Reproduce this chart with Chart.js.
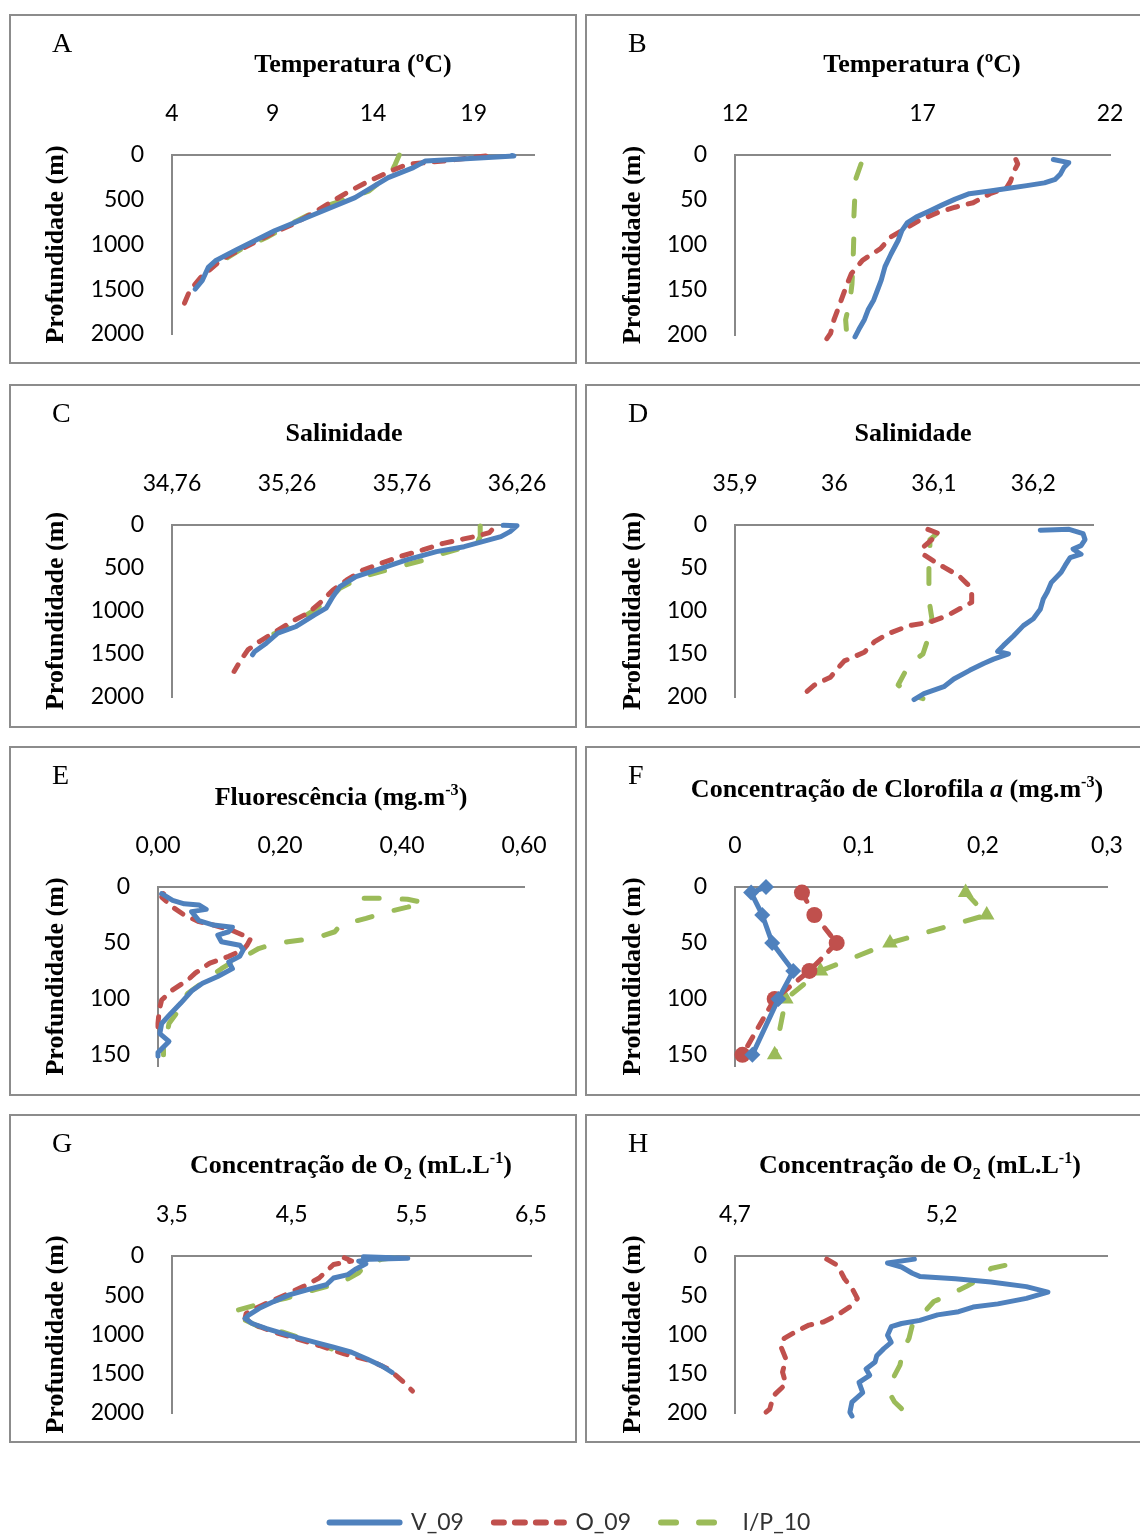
<!DOCTYPE html>
<html>
<head>
<meta charset="utf-8">
<script src="https://cdn.jsdelivr.net/npm/chart.js@4.4.1/dist/chart.umd.min.js"></script>
<style>
html, body { margin: 0; padding: 0; background: #fff; overflow: hidden; }
body { width: 1140px; height: 1535px; position: relative; }
.box { position: absolute; border: 2px solid #8c8c8c; box-sizing: border-box; pointer-events: none; }
canvas { position: absolute; }
.ttl { position: absolute; font: bold 26px "Liberation Serif", serif; white-space: nowrap; transform: translate(-50%, -50%); color: #000; }
.ttl sup, .ttl sub { font-size: 62%; line-height: 0; }
.ttl sub { vertical-align: -0.35em; }
.ttl sup { vertical-align: 0.6em; }
.let { position: absolute; font: 28px "Liberation Serif", serif; transform: translateY(-50%); color: #000; }
</style>
</head>
<body>
<script>
// series names, one per cruise
const seriesNames = ['V_09', 'O_09', 'I/P_10'];

// depth ticks
const depthDeep = [0, 500, 1000, 1500, 2000];
const depthShelf = [0, 50, 100, 150, 200];
const depthChl = [0, 50, 100, 150];

// A - temperature, deep station  [value, depth]
const tempDeepV09 = [[20.9,5],[21.0,10],[19.5,30],[17.5,55],[16.6,67],[16.0,141],[14.75,253],[13.1,476],[11.1,662],[9.1,847],[7.26,1052],[6.16,1182],[5.8,1256],[5.5,1405],[5.15,1498]];
const tempDeepO09 = [[19.6,10],[17.5,67],[15.7,104],[14.9,178],[13.8,290],[12.7,420],[11.6,569],[10.2,755],[8.9,885],[7.6,1033],[6.5,1163],[5.43,1368],[4.88,1516],[4.5,1721]];
const tempDeepIP10 = [[15.3,0],[15.1,104],[14.9,197],[14.4,290],[13.8,401],[12.9,476],[11.65,569],[10.2,736],[8.7,922],[7.44,1052],[6.5,1182],[5.9,1256]];
const tempDeepTicks = [4, 9, 14, 19];
const tempDeepText = ['4', '9', '14', '19'];

// B - temperature, shelf station
const tempShelfV09 = [[20.49,5],[20.9,8.5],[20.77,14],[20.68,21],[20.54,27],[20.25,31],[19.78,34],[19.3,37],[18.8,40],[18.25,43],[17.87,49],[17.5,56],[17.2,62],[16.83,69],[16.6,75],[16.45,84],[16.35,95],[16.16,110],[16.0,124],[15.9,139],[15.8,150],[15.7,161],[15.55,172],[15.45,183],[15.3,194],[15.2,202]];
const tempShelfO09 = [[19.49,5],[19.54,10],[19.44,18],[19.35,29],[19.25,36],[18.8,43],[18.35,53],[17.87,58],[17.4,64],[16.9,73],[16.45,84],[16.16,91],[15.88,104],[15.4,117],[15.1,132],[14.93,150],[14.8,165],[14.64,183],[14.55,198],[14.45,204]];
const tempShelfIP10 = [[15.36,10],[15.2,29],[15.19,51],[15.17,69],[15.17,88],[15.15,117],[15.12,143],[15.07,161],[14.95,183],[14.97,194],[15.12,200]];
const tempShelfTicks = [12, 17, 22];
const tempShelfText = ['12', '17', '22'];

// C - salinity, deep station
const salDeepV09 = [[36.2,3],[36.26,8],[36.23,77],[36.19,135],[36.11,193],[36.03,252],[35.91,310],[35.78,406],[35.67,503],[35.56,600],[35.49,716],[35.46,832],[35.43,967],[35.38,1045],[35.3,1180],[35.22,1258],[35.17,1374],[35.12,1470],[35.11,1509]];
const salDeepO09 = [[36.15,60],[36.14,89],[36.09,127],[36.02,166],[35.94,213],[35.85,290],[35.75,368],[35.67,445],[35.59,523],[35.52,639],[35.46,755],[35.41,890],[35.35,1026],[35.28,1123],[35.2,1258],[35.14,1355],[35.09,1452],[35.06,1568],[35.03,1703]];
const salDeepIP10 = [[36.1,12],[36.1,135],[36.09,193],[36.04,252],[35.94,329],[35.86,406],[35.72,503],[35.59,600],[35.49,735],[35.44,871],[35.38,987],[35.3,1123],[35.23,1239],[35.17,1297]];
const salDeepTicks = [34.76, 35.26, 35.76, 36.26];
const salDeepText = ['34,76', '35,26', '35,76', '36,26'];

// D - salinity, shelf station
const salShelfV09 = [[36.207,6],[36.236,5],[36.25,10],[36.252,17],[36.248,24],[36.24,28],[36.248,34],[36.237,38],[36.232,47],[36.228,55],[36.218,67],[36.214,78],[36.21,86],[36.207,98],[36.2,109],[36.19,117],[36.18,129],[36.17,140],[36.164,147],[36.175,150],[36.16,156],[36.15,161],[36.136,169],[36.12,179],[36.11,188],[36.09,196],[36.08,203]];
const salShelfO09 = [[36.094,5],[36.105,10],[36.098,17],[36.089,26],[36.089,34],[36.1,42],[36.11,49],[36.125,59],[36.134,69],[36.138,78],[36.138,90],[36.125,98],[36.114,105],[36.096,113],[36.075,117],[36.053,127],[36.04,136],[36.03,148],[36.01,158],[36.003,167],[35.996,177],[35.98,186],[35.97,196],[35.967,204]];
const salShelfIP10 = [[36.103,10],[36.096,17],[36.096,32],[36.095,47],[36.095,71],[36.096,94],[36.098,109],[36.094,121],[36.093,136],[36.089,150],[36.082,156],[36.071,171],[36.064,186],[36.078,198],[36.089,202]];
const salShelfTicks = [35.9, 36, 36.1, 36.2];
const salShelfText = ['35,9', '36', '36,1', '36,2'];

// E - fluorescence
const fluoV09 = [[0.006,6],[0.024,12],[0.043,15],[0.067,16],[0.079,20],[0.055,22],[0.067,30],[0.091,34],[0.122,36],[0.116,40],[0.098,43],[0.104,49],[0.134,52],[0.14,56],[0.134,62],[0.116,67],[0.122,73],[0.098,80],[0.073,86],[0.055,93],[0.037,104],[0.021,113],[0.006,122],[0.003,131],[0.018,138],[0,148],[0,151]];
const fluoO09 = [[0.009,6],[0.006,9],[0.024,18],[0.043,25],[0.067,31],[0.091,34],[0.122,39],[0.152,46],[0.146,52],[0.14,56],[0.116,62],[0.085,68],[0.061,77],[0.049,83],[0.024,92],[0.006,101],[0.002,110],[0,122],[0,134]];
const fluoIP10 = [[0.338,10],[0.372,10],[0.409,11],[0.436,14],[0.409,18],[0.378,22],[0.341,28],[0.299,34],[0.29,40],[0.256,46],[0.213,49],[0.183,52],[0.165,55],[0.146,61],[0.128,65],[0.104,73],[0.079,83],[0.049,95],[0.037,104],[0.03,113],[0.018,122],[0.015,131],[0.009,139],[0.009,150]];
const fluoTicks = [0, 0.2, 0.4, 0.6];
const fluoText = ['0,00', '0,20', '0,40', '0,60'];

// F - chlorophyll a (bottle samples)
const chlV09 = [[0.025,0],[0.013,5],[0.022,25],[0.03,50],[0.047,75],[0.035,100],[0.014,150]];
const chlO09 = [[0.054,5],[0.064,25],[0.082,50],[0.06,75],[0.032,100],[0.006,150]];
const chlIP10 = [[0.186,5],[0.203,25],[0.125,50],[0.069,75],[0.041,100],[0.032,150]];
const chlTicks = [0, 0.1, 0.2, 0.3];
const chlText = ['0', '0,1', '0,2', '0,3'];

// G - dissolved oxygen, deep station
const o2DeepV09 = [[5.1,10],[5.47,30],[5.16,40],[5.06,65],[5.12,99],[5.03,172],[4.97,237],[4.85,280],[4.79,366],[4.63,430],[4.48,495],[4.35,581],[4.23,667],[4.14,753],[4.11,796],[4.17,860],[4.29,925],[4.48,1011],[4.69,1097],[4.85,1161],[5.0,1226],[5.13,1312],[5.25,1398],[5.34,1484]];
const o2DeepO09 = [[4.94,22],[5.0,65],[4.85,108],[4.79,194],[4.73,280],[4.6,387],[4.48,473],[4.32,581],[4.2,667],[4.12,731],[4.11,796],[4.2,882],[4.35,968],[4.54,1054],[4.73,1140],[4.94,1247],[5.16,1333],[5.31,1441],[5.44,1613],[5.51,1720]];
const o2DeepIP10 = [[5.36,22],[5.25,43],[5.13,99],[5.06,215],[4.91,344],[4.69,430],[4.45,538],[4.2,624],[4.0,710],[4.11,817],[4.23,903],[4.42,968],[4.6,1054],[4.76,1140],[4.91,1226],[5.0,1247]];
const o2DeepTicks = [3.5, 4.5, 5.5, 6.5];
const o2DeepText = ['3,5', '4,5', '5,5', '6,5'];

// H - dissolved oxygen, shelf station
const o2ShelfV09 = [[5.134,4],[5.069,9],[5.103,14],[5.129,22],[5.147,26],[5.233,29],[5.319,33],[5.405,39],[5.457,46],[5.405,54],[5.336,61],[5.276,65],[5.241,71],[5.19,75],[5.147,82],[5.103,86],[5.078,90],[5.069,101],[5.078,110],[5.06,118],[5.043,127],[5.039,135],[5.017,144],[5.026,152],[5.0,161],[5.009,174],[4.983,186],[4.978,199],[4.983,204]];
const o2ShelfO09 = [[4.922,4],[4.948,12],[4.965,29],[4.983,41],[4.996,54],[4.983,63],[4.948,75],[4.914,84],[4.879,88],[4.845,97],[4.819,105],[4.81,114],[4.823,131],[4.815,148],[4.823,163],[4.793,178],[4.784,195],[4.759,206]];
const o2ShelfIP10 = [[5.353,12],[5.319,16],[5.293,29],[5.259,39],[5.216,50],[5.181,58],[5.155,73],[5.129,88],[5.121,105],[5.108,118],[5.099,139],[5.086,152],[5.073,174],[5.086,186],[5.108,197]];
const o2ShelfTicks = [4.7, 5.2];
const o2ShelfText = ['4,7', '5,2'];

const colors = ['#4F81BD', '#C0504D', '#9BBB59'];
const dashes = [[], [10, 11], [15, 23]];
const markerStyle = ['rectRot', 'circle', 'triangle'];
const markerSize = [8, 8, 9];

const panels = [
  {letter: 'A', title: 'Temperatura (ºC)', tc: [353, 64], box: [9, 14, 568, 350], plot: [172, 155, 534, 334],
   x: [4, 22], xt: tempDeepTicks, xs: tempDeepText, yMax: 2000, yt: depthDeep, series: [tempDeepV09, tempDeepO09, tempDeepIP10]},
  {letter: 'B', title: 'Temperatura (ºC)', tc: [922, 64], box: [585, 14, 570, 350], plot: [735, 155, 1110, 335],
   x: [12, 22], xt: tempShelfTicks, xs: tempShelfText, yMax: 200, yt: depthShelf, series: [tempShelfV09, tempShelfO09, tempShelfIP10]},
  {letter: 'C', title: 'Salinidade', tc: [344, 433], box: [9, 384, 568, 344], plot: [172, 525, 517, 697],
   x: [34.76, 36.26], xt: salDeepTicks, xs: salDeepText, yMax: 2000, yt: depthDeep, series: [salDeepV09, salDeepO09, salDeepIP10]},
  {letter: 'D', title: 'Salinidade', tc: [913, 433], box: [585, 384, 570, 344], plot: [735, 525, 1093, 697],
   x: [35.9, 36.26], xt: salShelfTicks, xs: salShelfText, yMax: 200, yt: depthShelf, series: [salShelfV09, salShelfO09, salShelfIP10]},
  {letter: 'E', title: 'Fluorescência (mg.m<sup>-3</sup>)', tc: [341, 797], box: [9, 746, 568, 350], plot: [158, 887, 524, 1066],
   x: [0, 0.6], xt: fluoTicks, xs: fluoText, yMax: 160, yt: depthChl, series: [fluoV09, fluoO09, fluoIP10]},
  {letter: 'F', title: 'Concentração de Clorofila <i>a</i> (mg.m<sup>-3</sup>)', tc: [897, 789], box: [585, 746, 570, 350], plot: [735, 887, 1107, 1066],
   x: [0, 0.3], xt: chlTicks, xs: chlText, yMax: 160, yt: depthChl, series: [chlV09, chlO09, chlIP10], markers: true},
  {letter: 'G', title: 'Concentração de O<sub>2</sub> (mL.L<sup>-1</sup>)', tc: [351, 1165], box: [9, 1114, 568, 329], plot: [172, 1256, 531, 1413],
   x: [3.5, 6.5], xt: o2DeepTicks, xs: o2DeepText, yMax: 2000, yt: depthDeep, series: [o2DeepV09, o2DeepO09, o2DeepIP10]},
  {letter: 'H', title: 'Concentração de O<sub>2</sub> (mL.L<sup>-1</sup>)', tc: [920, 1165], box: [585, 1114, 570, 329], plot: [735, 1256, 1107, 1413],
   x: [4.7, 5.6], xt: o2ShelfTicks, xs: o2ShelfText, yMax: 200, yt: depthShelf, series: [o2ShelfV09, o2ShelfO09, o2ShelfIP10]}
];

const tickFont = {family: 'Lato', size: 23};

function makePanel(p) {
  const [bx, by, bw, bh] = p.box;
  const cw = Math.min(bw, 1140 - bx), ch = bh;

  const cv = document.createElement('canvas');
  cv.width = cw; cv.height = ch;
  cv.style.left = bx + 'px'; cv.style.top = by + 'px';
  document.body.appendChild(cv);

  const border = document.createElement('div');
  border.className = 'box';
  Object.assign(border.style, {left: bx + 'px', top: by + 'px', width: bw + 'px', height: bh + 'px'});
  document.body.appendChild(border);

  const t = document.createElement('div');
  t.className = 'ttl';
  t.innerHTML = p.title;
  t.style.left = p.tc[0] + 'px'; t.style.top = p.tc[1] + 'px';
  document.body.appendChild(t);

  const l = document.createElement('div');
  l.className = 'let';
  l.textContent = p.letter;
  l.style.left = (bx + 43) + 'px'; l.style.top = (by + 29) + 'px';
  document.body.appendChild(l);

  new Chart(cv, {
    type: 'scatter',
    data: {
      datasets: p.series.map((s, i) => ({
        label: seriesNames[i],
        data: s.map(([x, y]) => ({x, y})),
        showLine: true,
        borderColor: colors[i],
        backgroundColor: colors[i],
        borderWidth: 5,
        borderDash: dashes[i],
        borderCapStyle: 'round',
        borderJoinStyle: 'round',
        pointRadius: p.markers ? markerSize[i] : 0,
        pointStyle: markerStyle[i],
        pointBorderWidth: 0,
        tension: 0,
        clip: false
      }))
    },
    options: {
      responsive: false,
      animation: false,
      devicePixelRatio: 1,
      events: [],
      layout: {padding: {left: 0, top: 0, right: cw - (p.plot[2] - bx), bottom: ch - (p.plot[3] - by)}},
      plugins: {legend: {display: false}, tooltip: {enabled: false}},
      scales: {
        x: {
          type: 'linear', position: 'top', min: p.x[0], max: p.x[1],
          grid: {display: false},
          border: {color: '#888', width: 2},
          ticks: {autoSkip: false, maxRotation: 0, padding: 20, color: '#000', font: tickFont,
                  callback: (v, i) => p.xs[i]},
          afterBuildTicks: s => { s.ticks = p.xt.map(v => ({value: v})); },
          afterFit: s => { s.height = p.plot[1] - by; s.paddingLeft = 0; s.paddingRight = 0; }
        },
        y: {
          type: 'linear', reverse: true, min: 0, max: p.yMax,
          grid: {display: false},
          border: {color: '#888', width: 2},
          ticks: {autoSkip: false, padding: 20, color: '#000', font: tickFont, callback: v => String(v)},
          afterBuildTicks: s => { s.ticks = p.yt.map(v => ({value: v})); },
          afterFit: s => { s.width = p.plot[0] - bx; s.paddingTop = 0; s.paddingBottom = 0; },
          title: {display: true, text: 'Profundidade (m)', color: '#000',
                  font: {family: 'Liberation Serif', size: 26, weight: 'bold'},
                  padding: {top: bx > 300 ? 33 : 32, bottom: 0}}
        }
      }
    }
  });
}

panels.forEach(makePanel);

// shared legend at the foot of the figure
const lg = document.createElement('canvas');
lg.width = 1140; lg.height = 160;
lg.style.left = '0px'; lg.style.top = '1481px';
document.body.appendChild(lg);
new Chart(lg, {
  type: 'scatter',
  data: {
    datasets: seriesNames.map((n, i) => ({label: n, data: [], borderColor: colors[i], backgroundColor: colors[i],
      borderWidth: 6, borderDash: dashes[i], borderCapStyle: 'round'}))
  },
  options: {
    responsive: false, animation: false, devicePixelRatio: 1, events: [],
    scales: {x: {display: false}, y: {display: false}},
    plugins: {
      tooltip: {enabled: false},
      legend: {
        position: 'top',
        labels: {
          usePointStyle: true, pointStyle: 'line', pointStyleWidth: 70, boxWidth: 70,
          padding: 30, color: '#333', font: {family: 'Lato', size: 23},
          generateLabels: chart => chart.data.datasets.map((d, i) => ({
            text: d.label, fillStyle: d.borderColor, strokeStyle: d.borderColor, fontColor: '#333',
            lineWidth: d.borderWidth, lineDash: d.borderDash, lineCap: 'round', pointStyle: 'line',
            hidden: false, datasetIndex: i
          }))
        }
      }
    }
  }
});
</script>
</body>
</html>
